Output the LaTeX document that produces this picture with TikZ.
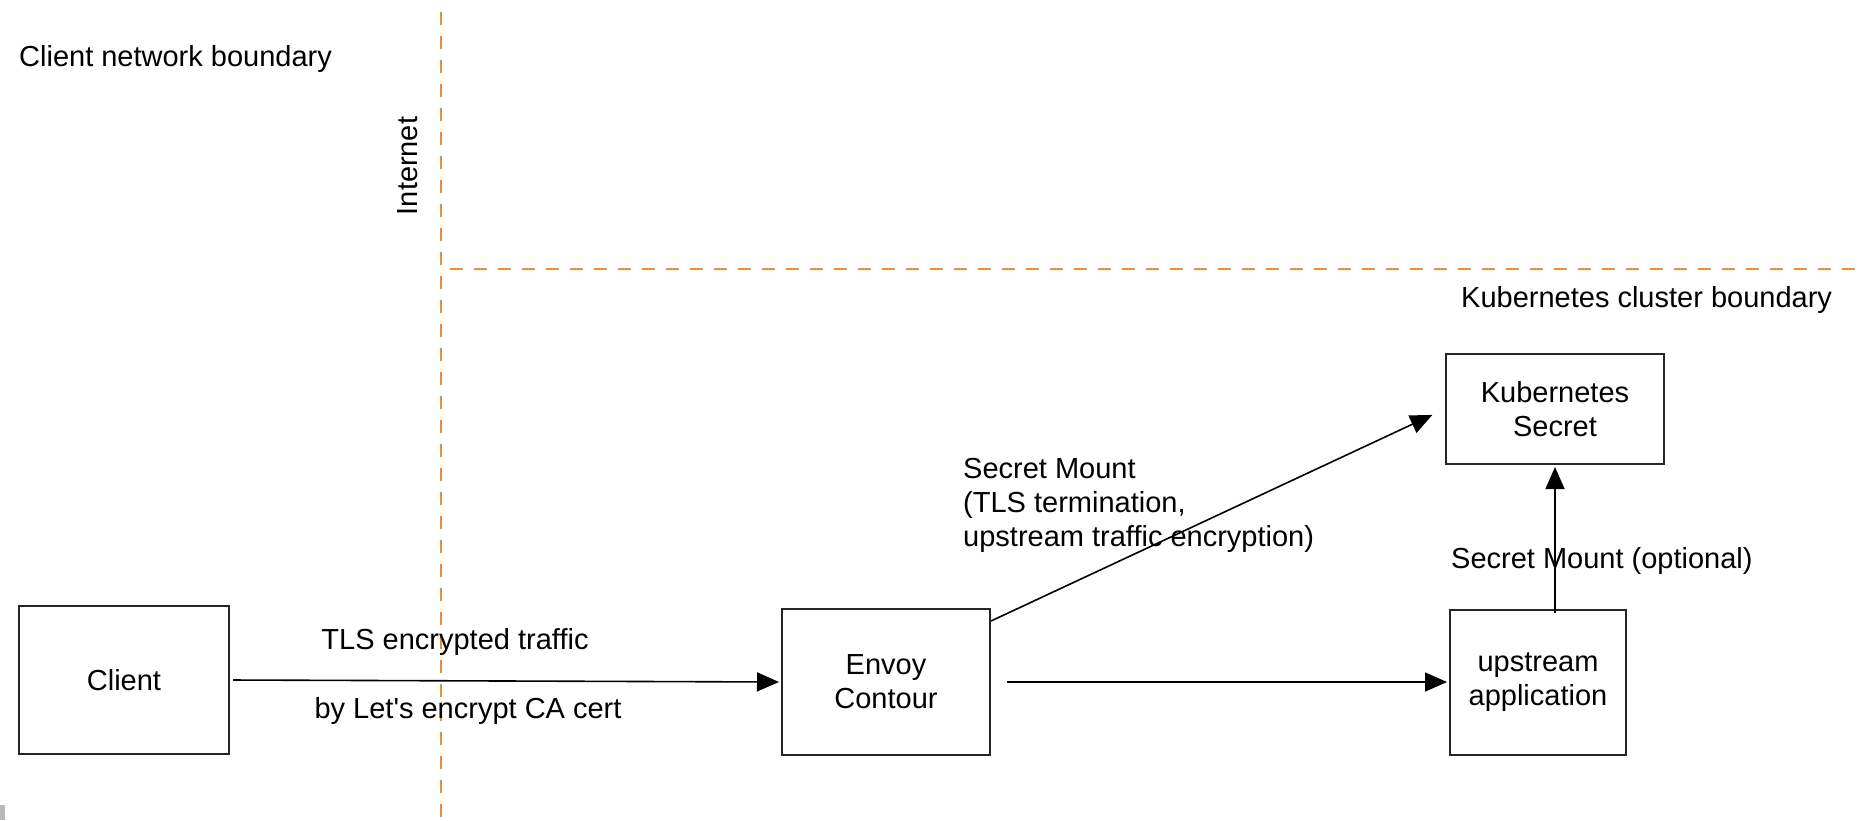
\documentclass[tikz,border=0pt]{standalone}
\usepackage{fontspec}
\setmainfont{Liberation Sans}
\usetikzlibrary{arrows.meta}
\definecolor{bordorange}{RGB}{234,143,50}
\begin{document}
\begin{tikzpicture}[x=1pt,y=-1pt,
  every node/.style={font=\fontsize{29}{34}\selectfont, inner sep=0pt},
  boxnode/.style={draw=black!85, line width=2pt, align=center},
  arr/.style={-{Triangle[length=22pt,width=19pt]}, line width=1.6pt, black},
  boundary/.style={draw=bordorange, line width=2.2pt, dash pattern=on 13pt off 11pt}
]
\useasboundingbox (0,0) rectangle (1864,820);
\fill[white] (0,0) rectangle (1864,820);
% boundaries
\coordinate (vtop) at (441,12);
\coordinate (vbot) at (441,820);
\coordinate (hleft) at (450,269);
\coordinate (hright) at (1864,269);
\draw[boundary] (vtop) -- (vbot);
\draw[boundary] (hleft) -- (hright);
\fill[gray!55] (0,805) rectangle (5,820);
% labels
\node[anchor=west] (cnb) at (19,59) {Client network boundary};
\node[rotate=90] (inet) at (408,166) {Internet};
\node[anchor=west] (kcb) at (1461,300) {Kubernetes cluster boundary};
% boxes
\node[boxnode, minimum width=210pt, minimum height=148pt] (client) at (124,680) {Client};
\node[boxnode, minimum width=208pt, minimum height=146pt] (envoy) at (886,682) {Envoy\\Contour};
\node[boxnode, minimum width=176pt, minimum height=145pt] (upstream) at (1538,682) {upstream\\application};
\node[boxnode, minimum width=218pt, minimum height=110pt] (ks) at (1555,409) {Kubernetes\\Secret};
% connectors
\draw[arr, shorten <=3pt, shorten >=2pt] (client.east) -- (envoy.west);
\draw[arr, shorten <=16pt, shorten >=2pt] (envoy.east) -- (upstream.west);
\draw[arr, shorten >=14pt] ([yshift=-13pt]envoy.north east) -- (ks.west);
\draw[arr, shorten <=-4pt, shorten >=2pt] (ks.south |- upstream.north) -- (ks.south);
% connector labels
\node (tls1) at (455,642) {TLS encrypted traffic};
\node (tls2) at (468,711) {by Let\textquotesingle s encrypt CA cert};
\node[anchor=west, align=left] (sm1) at (963,505) {Secret Mount\\(TLS termination,\\upstream traffic encryption)};
\node[anchor=west] (sm2) at (1451,561) {Secret Mount (optional)};
\end{tikzpicture}
\end{document}
